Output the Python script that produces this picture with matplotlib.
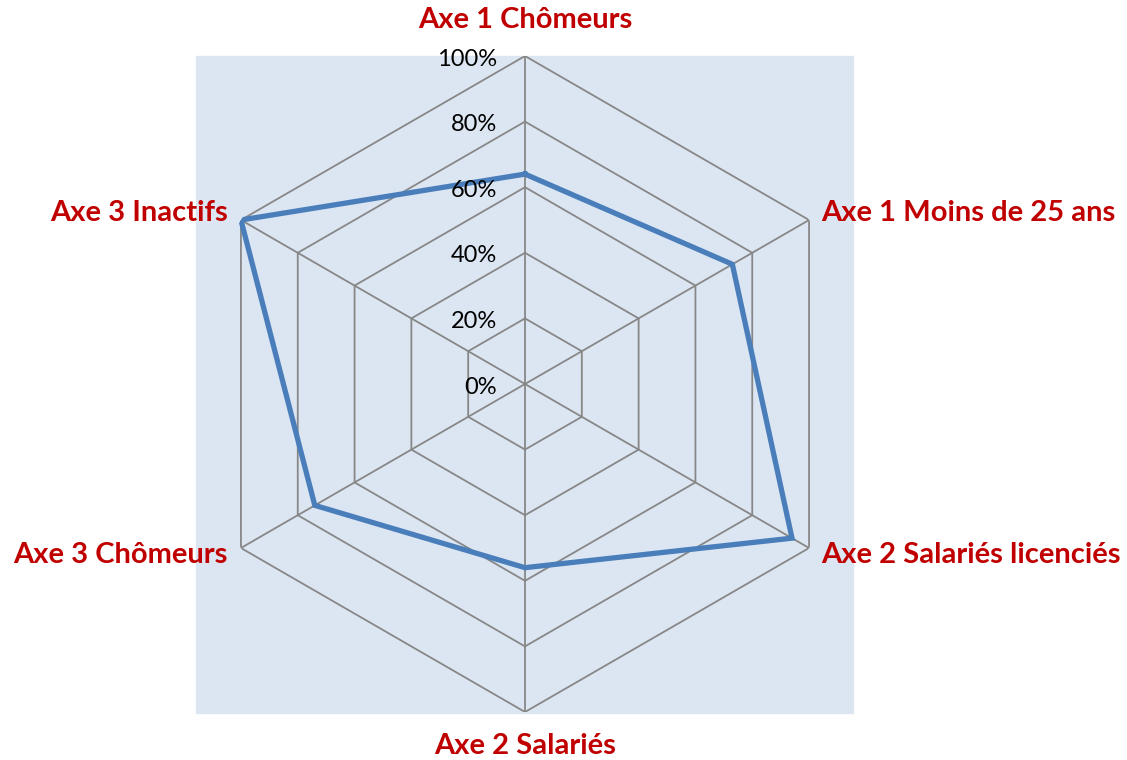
import numpy as np
import matplotlib
matplotlib.use('Agg')
import matplotlib.pyplot as plt
from matplotlib.patches import Rectangle

# values, clockwise from the top
categories = ['Axe 1 Chômeurs', 'Axe 1 Moins de 25 ans', 'Axe 2 Salariés licenciés',
              'Axe 2 Salariés', 'Axe 3 Chômeurs', 'Axe 3 Inactifs']
values = [64, 73, 94, 56, 74, 100]
levels = [0, 20, 40, 60, 80, 100]
level_labels = ['0%', '20%', '40%', '60%', '80%', '100%']

plt.rcParams['font.family'] = ['Lato', 'DejaVu Sans']

fig = plt.figure(figsize=(11.27, 7.6), dpi=100)
# plot area background
fig.patches.append(Rectangle((196/1127, 47/760), 657/1127, 657/760,
                             transform=fig.transFigure, color='#DCE6F2', zorder=-5))

ax = fig.add_axes([197/1127, 48/760, 656/1127, 656/760], projection='polar')
ax.set_zorder(2)
ax.set_theta_zero_location('N')
ax.set_theta_direction(-1)
ax.patch.set_visible(False)
ax.spines['polar'].set_visible(False)
ax.grid(False)
ax.set_xticks([])
ax.set_yticks([])
ax.set_ylim(0, 100)

n = len(categories)
theta = np.arange(n) * 2 * np.pi / n
th_closed = np.append(theta, theta[0])

grid_col = '#878787'
for lv in levels[1:]:
    ax.plot(th_closed, [lv] * (n + 1), color=grid_col, lw=1.3, zorder=2)
for t in theta:
    ax.plot([t, t], [0, 100], color=grid_col, lw=1.3, zorder=2)

ax.plot(th_closed, values + [values[0]], color='#4A7EBB', lw=3.8, zorder=4,
        solid_joinstyle='miter')

for lv, lab in zip(levels, level_labels):
    ax.annotate(lab, xy=(0, lv), xytext=(-28, -3), textcoords='offset pixels',
                ha='right', va='center', fontsize=17, color='black', zorder=5)

offsets = [(0, 36, 'center'), (12, 7, 'left'), (12, -7, 'left'),
           (0, -34, 'center'), (-13, -7, 'right'), (-13, 7, 'right')]
for t, cat, (dx, dy, ha) in zip(theta, categories, offsets):
    ax.annotate(cat, xy=(t, 100), xytext=(dx, dy), textcoords='offset pixels',
                ha=ha, va='center', fontsize=21, fontweight='bold',
                color='#C00000', annotation_clip=False)

fig.savefig('out.png', dpi=100)
